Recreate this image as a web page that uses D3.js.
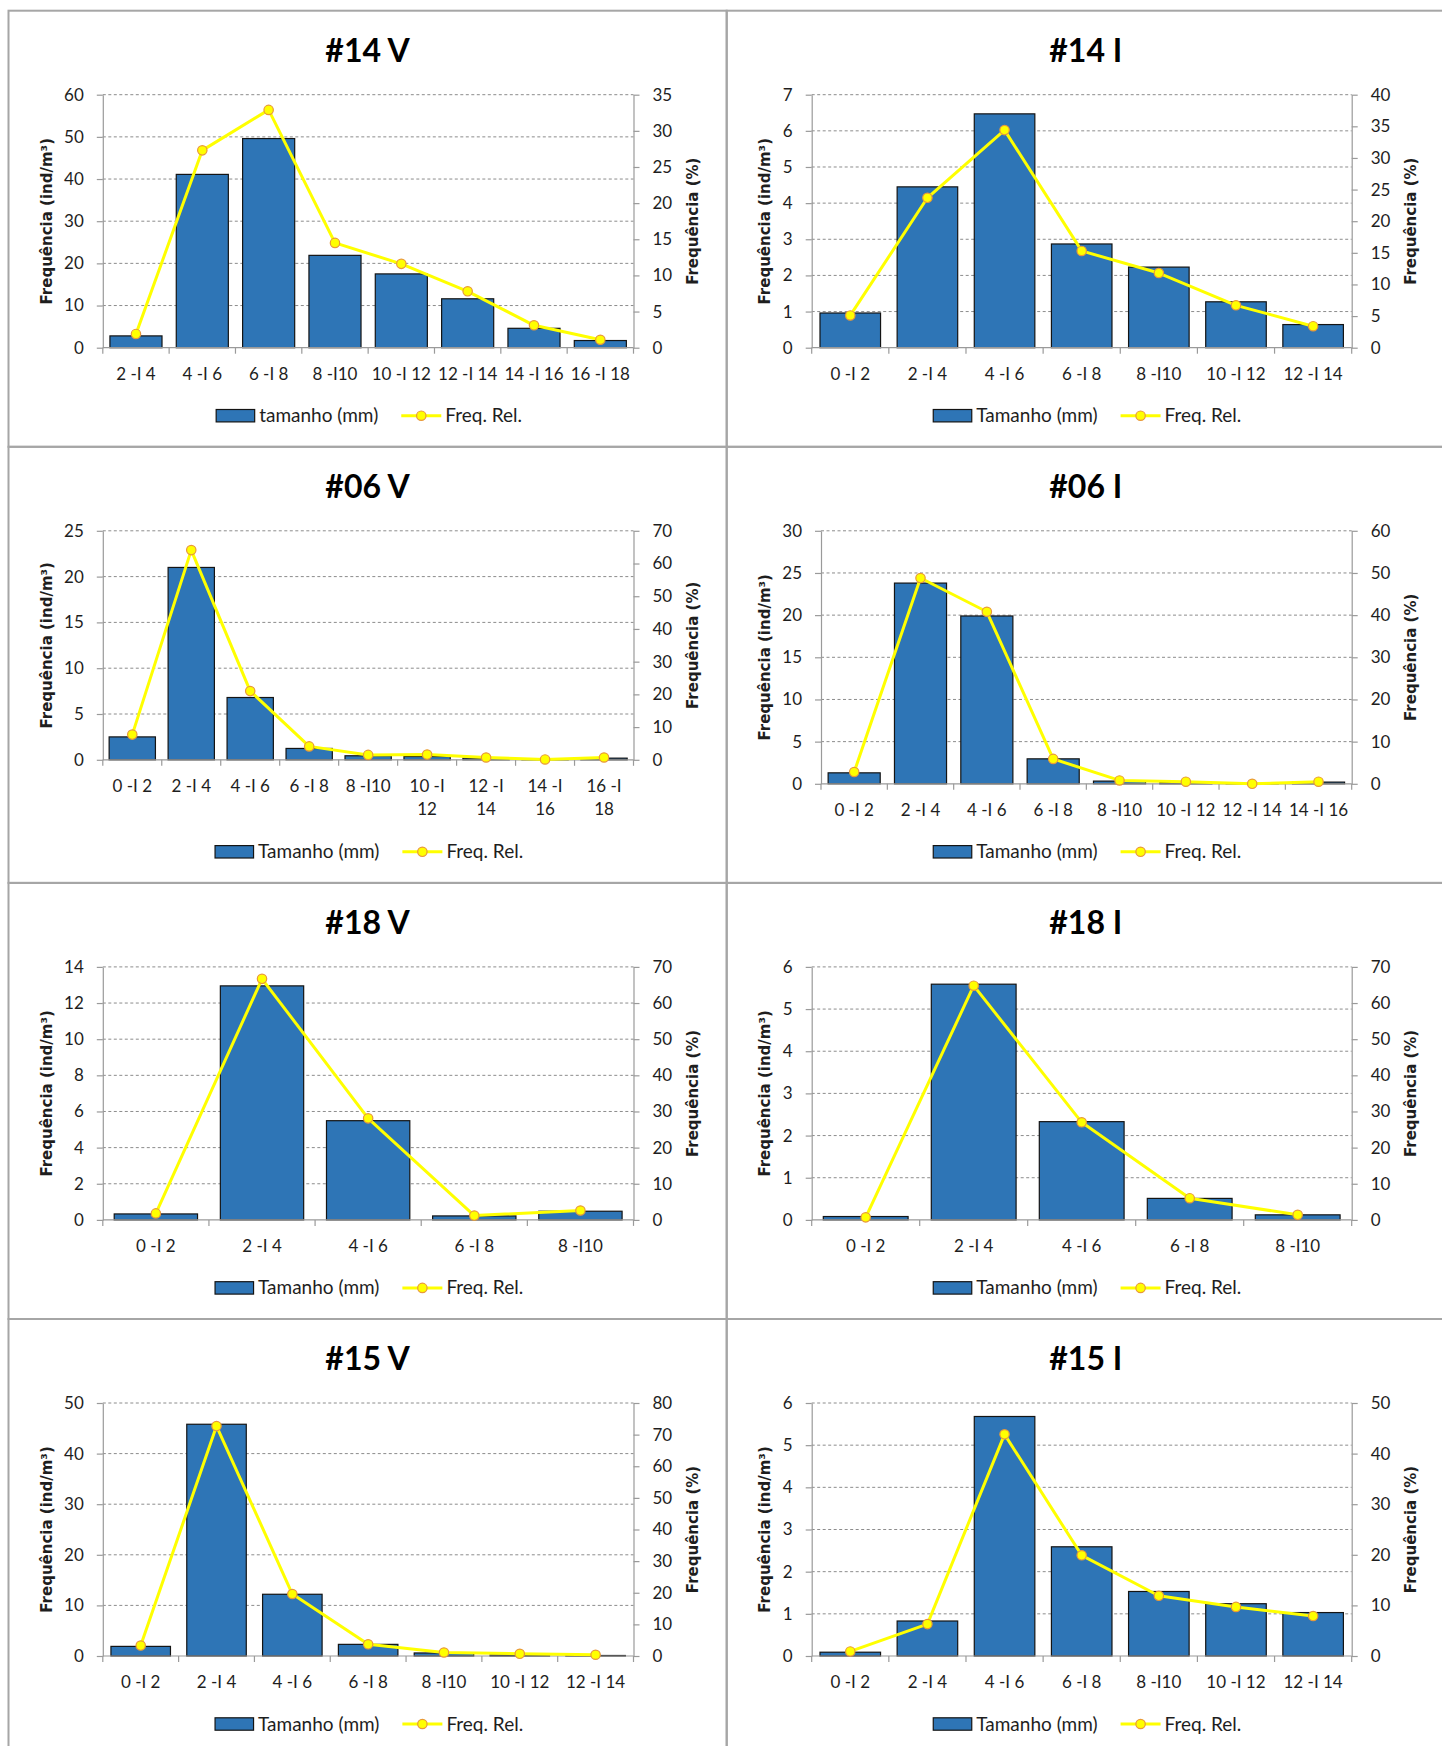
<!DOCTYPE html>
<html><head><meta charset="utf-8">
<script src="https://cdn.jsdelivr.net/npm/d3@7"></script>
<style>
html,body{margin:0;padding:0;background:#fff;}
svg{display:block;}
</style></head>
<body><svg id="c" width="1442" height="1746"></svg>
<script>
// ---------------- DATA ----------------
const titles = ["#14 V", "#14 I", "#06 V", "#06 I", "#18 V", "#18 I", "#15 V", "#15 I"];
const barLegendLabels = ["tamanho (mm)", "Tamanho (mm)", "Tamanho (mm)", "Tamanho (mm)", "Tamanho (mm)", "Tamanho (mm)", "Tamanho (mm)", "Tamanho (mm)"];
const lineLegendLabel = "Freq. Rel.";
const yTitleLeft = "Frequência (ind/m³)";
const yTitleRight = "Frequência (%)";

const cats14V = ["2 -I 4", "4 -I 6", "6 -I 8", "8 -I10", "10 -I 12", "12 -I 14", "14 -I 16", "16 -I 18"];
const dens14V = [2.8, 41.1, 49.6, 21.9, 17.5, 11.6, 4.6, 1.7];
const rel14V = [1.9, 27.3, 32.9, 14.5, 11.6, 7.8, 3.1, 1.1];
const yTicks14V = [0, 10, 20, 30, 40, 50, 60];
const y2Ticks14V = [0, 5, 10, 15, 20, 25, 30, 35];

const cats14I = ["0 -I 2", "2 -I 4", "4 -I 6", "6 -I 8", "8 -I10", "10 -I 12", "12 -I 14"];
const dens14I = [0.96, 4.45, 6.47, 2.87, 2.23, 1.27, 0.64];
const rel14I = [5.1, 23.7, 34.4, 15.3, 11.8, 6.7, 3.4];
const yTicks14I = [0, 1, 2, 3, 4, 5, 6, 7];
const y2Ticks14I = [0, 5, 10, 15, 20, 25, 30, 35, 40];

const cats06V = ["0 -I 2", "2 -I 4", "4 -I 6", "6 -I 8", "8 -I10", "10 -I 12", "12 -I 14", "14 -I 16", "16 -I 18"];
const dens06V = [2.5, 21.0, 6.8, 1.24, 0.44, 0.36, 0.18, 0.04, 0.18];
const rel06V = [7.7, 64.1, 21.0, 4.1, 1.5, 1.6, 0.7, 0.1, 0.7];
const yTicks06V = [0, 5, 10, 15, 20, 25];
const y2Ticks06V = [0, 10, 20, 30, 40, 50, 60, 70];

const cats06I = ["0 -I 2", "2 -I 4", "4 -I 6", "6 -I 8", "8 -I10", "10 -I 12", "12 -I 14", "14 -I 16"];
const dens06I = [1.3, 23.8, 19.9, 2.96, 0.32, 0.16, 0.04, 0.2];
const rel06I = [2.8, 48.8, 40.8, 5.9, 0.8, 0.5, 0.0, 0.5];
const yTicks06I = [0, 5, 10, 15, 20, 25, 30];
const y2Ticks06I = [0, 10, 20, 30, 40, 50, 60];

const cats18V = ["0 -I 2", "2 -I 4", "4 -I 6", "6 -I 8", "8 -I10"];
const dens18V = [0.33, 12.95, 5.49, 0.22, 0.48];
const rel18V = [1.8, 66.7, 28.1, 1.2, 2.6];
const yTicks18V = [0, 2, 4, 6, 8, 10, 12, 14];
const y2Ticks18V = [0, 10, 20, 30, 40, 50, 60, 70];

const cats18I = ["0 -I 2", "2 -I 4", "4 -I 6", "6 -I 8", "8 -I10"];
const dens18I = [0.08, 5.59, 2.33, 0.51, 0.12];
const rel18I = [0.7, 64.8, 27.0, 6.0, 1.4];
const yTicks18I = [0, 1, 2, 3, 4, 5, 6];
const y2Ticks18I = [0, 10, 20, 30, 40, 50, 60, 70];

const cats15V = ["0 -I 2", "2 -I 4", "4 -I 6", "6 -I 8", "8 -I10", "10 -I 12", "12 -I 14"];
const dens15V = [1.9, 45.8, 12.2, 2.3, 0.6, 0.2, 0.1];
const rel15V = [3.3, 72.7, 19.6, 3.7, 1.1, 0.7, 0.4];
const yTicks15V = [0, 10, 20, 30, 40, 50];
const y2Ticks15V = [0, 10, 20, 30, 40, 50, 60, 70, 80];

const cats15I = ["0 -I 2", "2 -I 4", "4 -I 6", "6 -I 8", "8 -I10", "10 -I 12", "12 -I 14"];
const dens15I = [0.09, 0.83, 5.68, 2.59, 1.53, 1.24, 1.03];
const rel15I = [0.9, 6.3, 43.8, 19.9, 11.9, 9.7, 7.9];
const yTicks15I = [0, 1, 2, 3, 4, 5, 6];
const y2Ticks15I = [0, 10, 20, 30, 40, 50];

const panels = [
  {cats: cats14V, dens: dens14V, rel: rel14V, yt: yTicks14V, y2t: y2Ticks14V},
  {cats: cats14I, dens: dens14I, rel: rel14I, yt: yTicks14I, y2t: y2Ticks14I},
  {cats: cats06V, dens: dens06V, rel: rel06V, yt: yTicks06V, y2t: y2Ticks06V},
  {cats: cats06I, dens: dens06I, rel: rel06I, yt: yTicks06I, y2t: y2Ticks06I},
  {cats: cats18V, dens: dens18V, rel: rel18V, yt: yTicks18V, y2t: y2Ticks18V},
  {cats: cats18I, dens: dens18I, rel: rel18I, yt: yTicks18I, y2t: y2Ticks18I},
  {cats: cats15V, dens: dens15V, rel: rel15V, yt: yTicks15V, y2t: y2Ticks15V},
  {cats: cats15I, dens: dens15I, rel: rel15I, yt: yTicks15I, y2t: y2Ticks15I}
];

// ---------------- STYLE / LAYOUT ----------------
const BAR = "#2E75B6", BAR_STROKE = "#141414";
const LINE = "#FFFF00", MARK_STROKE = "#E8983A";
const AXIS = "#9A9A9A", GRID = "#8C8C8C", BORDER = "#A6A6A6";
const TXT = "#1e1e1e";
const FONT = "Lato, 'Open Sans', sans-serif";
const TFONT = "'DejaVu Sans', Verdana, sans-serif";
const PX0 = 8.5, PW = 718.2, PY0 = 10.7, PH = 436.1;
const fmt = d3.format("d");

const svg = d3.select("#c");

panels.forEach((p, i) => {
  const col = i % 2, row = Math.floor(i / 2);
  const px = PX0 + col * PW, py = PY0 + row * PH;
  const g = svg.append("g");

  // border
  g.append("rect").attr("x", px).attr("y", py).attr("width", PW).attr("height", PH)
    .attr("fill", "none").attr("stroke", BORDER).attr("stroke-width", 2);

  // title
  g.append("text").attr("x", px + PW / 2).attr("y", py + 51)
    .attr("text-anchor", "middle").attr("font-family", FONT).attr("font-weight", "bold")
    .attr("font-size", 32).attr("fill", "#000").text(titles[i]);

  const yMax = d3.max(p.yt), y2Max = d3.max(p.y2t);
  const digits = String(yMax).length;
  const left = px + 85 + 9.3 * (digits - 1);
  const right = px + 625;
  const top = py + 84;

  const x = d3.scaleBand().domain(p.cats).range([left, right]).paddingInner(0.215).paddingOuter(0.1075);

  // measure labels to decide wrapping
  const meas = g.append("g").attr("font-family", FONT).attr("font-size", 17);
  const wraps = p.cats.map(c => {
    const t = meas.append("text").text(c);
    const w = t.node().getComputedTextLength();
    t.remove();
    return w > x.step() * 0.93;
  });
  meas.remove();
  const anyWrap = wraps.some(d => d);
  const bottom = py + (anyWrap ? 313 : 337);

  const y = d3.scaleLinear().domain([0, yMax]).range([bottom, top]);
  const y2 = d3.scaleLinear().domain([0, y2Max]).range([bottom, top]);

  // gridlines
  g.append("g").selectAll("line").data(p.yt.filter(v => v > 0)).join("line")
    .attr("x1", left).attr("x2", right).attr("y1", d => y(d)).attr("y2", d => y(d))
    .attr("stroke", GRID).attr("stroke-width", 1).attr("stroke-dasharray", "3,2.5");

  // bars
  g.append("g").selectAll("rect").data(p.cats).join("rect")
    .attr("x", c => x(c)).attr("width", x.bandwidth())
    .attr("y", (c, k) => y(p.dens[k])).attr("height", (c, k) => bottom - y(p.dens[k]))
    .attr("fill", BAR).attr("stroke", BAR_STROKE).attr("stroke-width", 1.2);

  // left axis
  const ax = g.append("g").attr("transform", `translate(${left},0)`)
    .call(d3.axisLeft(y).tickValues(p.yt).tickFormat(fmt).tickSize(6).tickSizeOuter(0).tickPadding(13));
  // right axis
  const ax2 = g.append("g").attr("transform", `translate(${right},0)`)
    .call(d3.axisRight(y2).tickValues(p.y2t).tickFormat(fmt).tickSize(6).tickSizeOuter(0).tickPadding(13));
  [ax, ax2].forEach(a => {
    a.selectAll("path,line").attr("stroke", AXIS).attr("stroke-width", 1.2);
    a.selectAll("text").attr("font-family", FONT).attr("font-size", 17).attr("fill", TXT);
  });

  // category axis
  g.append("line").attr("x1", left).attr("x2", right).attr("y1", bottom).attr("y2", bottom)
    .attr("stroke", AXIS).attr("stroke-width", 1.2);
  const bounds = d3.range(p.cats.length + 1).map(k => x.range()[0] + k * x.step());
  g.append("g").selectAll("line").data(bounds).join("line")
    .attr("x1", d => d).attr("x2", d => d).attr("y1", bottom).attr("y2", bottom + 6)
    .attr("stroke", AXIS).attr("stroke-width", 1.2);

  const lab = g.append("g").attr("font-family", FONT).attr("font-size", 17).attr("fill", TXT)
    .attr("text-anchor", "middle");
  p.cats.forEach((c, k) => {
    const cx = x(c) + x.bandwidth() / 2;
    const t = lab.append("text").attr("x", cx).attr("y", bottom + 32);
    if (wraps[k]) {
      const idx = c.lastIndexOf(" ");
      t.append("tspan").attr("x", cx).text(c.slice(0, idx));
      t.append("tspan").attr("x", cx).attr("dy", 23.5).text(c.slice(idx + 1));
    } else {
      t.text(c);
    }
  });

  // line series
  const line = d3.line().x((d, k) => x(p.cats[k]) + x.bandwidth() / 2).y(d => y2(d));
  g.append("path").datum(p.rel).attr("d", line).attr("fill", "none")
    .attr("stroke", LINE).attr("stroke-width", 3).attr("stroke-linejoin", "round");
  g.append("g").selectAll("circle").data(p.rel).join("circle")
    .attr("cx", (d, k) => x(p.cats[k]) + x.bandwidth() / 2).attr("cy", d => y2(d)).attr("r", 4.7)
    .attr("fill", LINE).attr("stroke", MARK_STROKE).attr("stroke-width", 1.2);

  // axis titles
  const cy = (top + bottom) / 2;
  g.append("text").attr("transform", `translate(${px + 38.5},${cy}) rotate(-90)`)
    .attr("text-anchor", "middle").attr("dominant-baseline", "central")
    .attr("font-family", TFONT).attr("font-weight", "bold").attr("font-size", 15)
    .attr("fill", TXT).text(yTitleLeft);
  g.append("text").attr("transform", `translate(${px + 684.5},${cy}) rotate(-90)`)
    .attr("text-anchor", "middle").attr("dominant-baseline", "central")
    .attr("font-family", TFONT).attr("font-weight", "bold").attr("font-size", 15)
    .attr("fill", TXT).text(yTitleRight);

  // legend
  const ly = py + 405;
  const leg = g.append("g");
  const t1 = leg.append("text").attr("font-family", FONT).attr("font-size", 19).attr("fill", TXT)
    .attr("y", ly + 6.5).text(barLegendLabels[i]);
  const t2 = leg.append("text").attr("font-family", FONT).attr("font-size", 19).attr("fill", TXT)
    .attr("y", ly + 6.5).text(lineLegendLabel);
  const w1 = t1.node().getComputedTextLength(), w2 = t2.node().getComputedTextLength();
  const rectW = 38.5, gap1 = 4.5, gap2 = 23, lineW = 40, gap3 = 4;
  const total = rectW + gap1 + w1 + gap2 + lineW + gap3 + w2;
  let lx = px + PW / 2 + 1.5 - total / 2;
  leg.append("rect").attr("x", lx).attr("y", ly - 6.2).attr("width", rectW).attr("height", 12.4)
    .attr("fill", BAR).attr("stroke", BAR_STROKE).attr("stroke-width", 1.2);
  lx += rectW + gap1;
  t1.attr("x", lx);
  lx += w1 + gap2;
  leg.append("line").attr("x1", lx).attr("x2", lx + lineW).attr("y1", ly).attr("y2", ly)
    .attr("stroke", LINE).attr("stroke-width", 3);
  leg.append("circle").attr("cx", lx + lineW / 2).attr("cy", ly).attr("r", 4.7)
    .attr("fill", LINE).attr("stroke", MARK_STROKE).attr("stroke-width", 1.2);
  lx += lineW + gap3;
  t2.attr("x", lx);
});
</script>
</body></html>
